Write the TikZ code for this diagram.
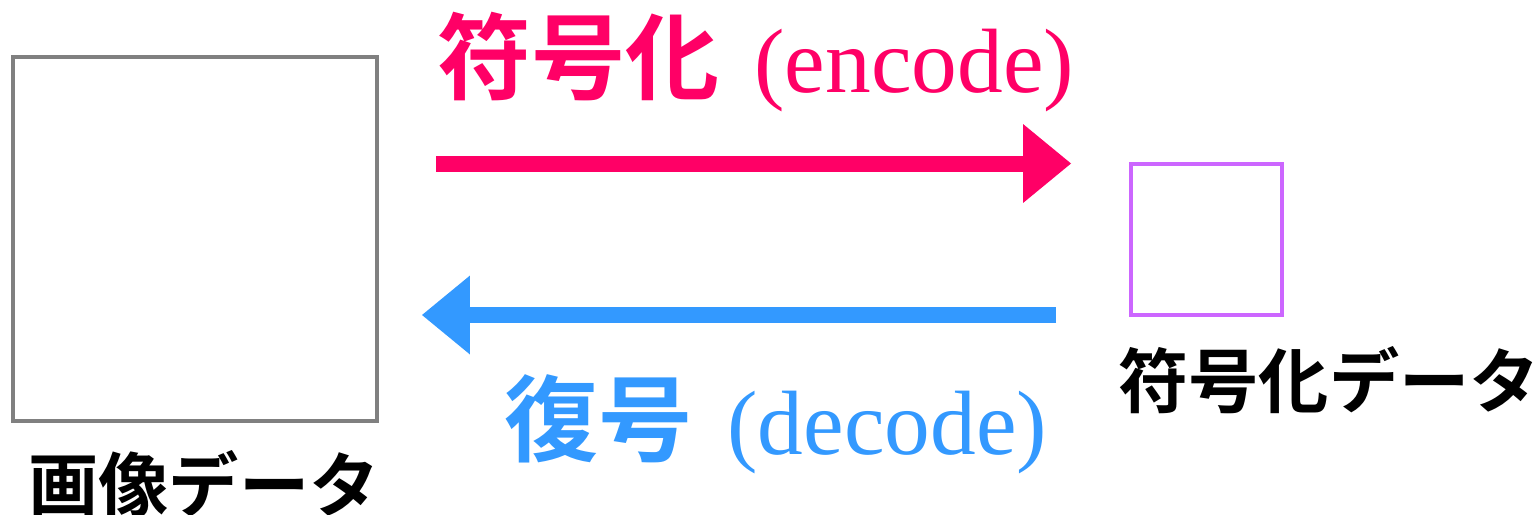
\documentclass[tikz,border=0pt]{standalone}
\usepackage{fontspec}
\setmainfont{Liberation Serif}
\newfontfamily\cjk{Noto Sans CJK JP Bold}
\usetikzlibrary{arrows.meta}
\definecolor{encpink}{HTML}{FF0066}
\definecolor{decblue}{HTML}{3399FF}
\definecolor{boxpurple}{HTML}{CC66FF}
\definecolor{boxgray}{HTML}{808080}
\newcommand{\cjkpart}[1]{{\cjk\fontsize{53.5pt}{60pt}\selectfont #1}}
\tikzset{
  databox/.style={draw, line width=0.08cm, minimum width=#1*0.02cm, minimum height=#1*0.02cm, inner sep=0pt},
  biglabel/.style={anchor=base west, inner sep=0pt, font=\fontsize{52pt}{60pt}\selectfont},
  datalabel/.style={anchor=base west, inner sep=0pt, font=\cjk\fontsize{40pt}{45pt}\selectfont},
  flow/.style={line width=0.32cm, -{Triangle[length=0.96cm, width=1.58cm, line width=0pt]}}
}
\begin{document}
\begin{tikzpicture}[x=0.02cm, y=-0.02cm]
\useasboundingbox (0,0) rectangle (1540,514);
% boxes
\node[databox=364, boxgray] (img) at (195,239) {};
\node[databox=151, boxpurple] (enc) at (1206.5,239.5) {};
% labels under boxes
\node[datalabel] (imglabel) at (28,511) {画像データ};
\node[datalabel] (enclabel) at (1118,407) {符号化データ};
% arrow end points
\coordinate (encA) at (436,163.5);
\coordinate (encB) at (1071,163.5);
\coordinate (decA) at (1056,315);
\coordinate (decB) at (422,315);
\draw[flow, encpink] (encA) -- (encB);
\draw[flow, decblue] (decA) -- (decB);
% arrow labels
\node[biglabel, text=encpink] (enctext) at (437,92) {\cjkpart{符号化}\hspace{7pt} (encode)};
\node[biglabel, text=decblue] (dectext) at (504,454) {\cjkpart{復号}\hspace{7pt} (decode)};
\end{tikzpicture}
\end{document}
